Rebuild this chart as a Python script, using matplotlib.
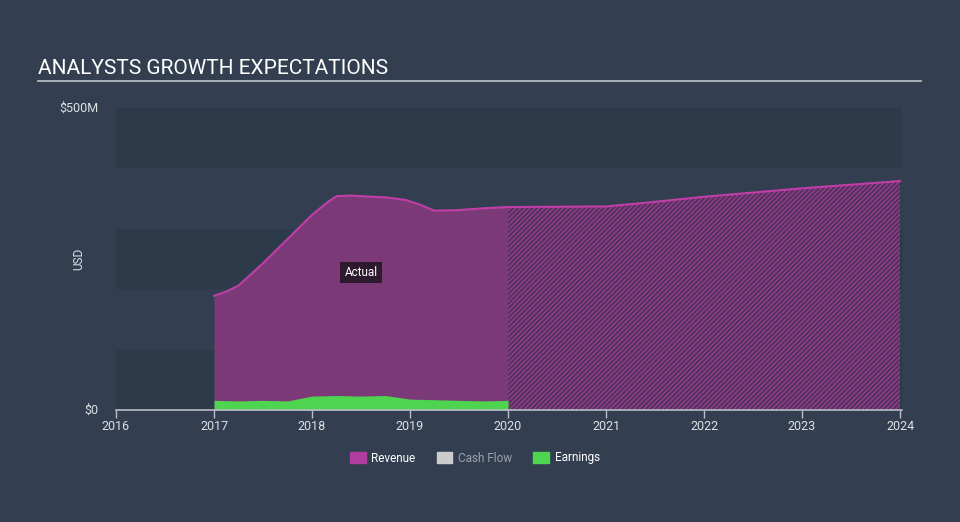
import numpy as np
import matplotlib.pyplot as plt
from matplotlib.patches import Patch

# revenue history, $M
rev_years = [2017.0, 2017.125, 2017.25, 2017.5, 2017.75, 2018.0, 2018.15, 2018.25, 2018.4,
             2018.5, 2018.75, 2018.95, 2019.1, 2019.25, 2019.5, 2019.75, 2020.0]
rev_vals = [189, 196, 206, 243, 283, 323, 343, 354, 355,
            354, 352, 348, 340, 330, 331, 334, 336]

# revenue forecast, $M
fc_years = [2020.0, 2021.0, 2021.4, 2022.0, 2023.0, 2024.0]
fc_vals = [336, 337, 343, 353, 367, 379]

# earnings history, $M
earn_years = [2017.0, 2017.25, 2017.5, 2017.75, 2018.0, 2018.25, 2018.5, 2018.75,
              2019.0, 2019.25, 2019.5, 2019.75, 2020.0]
earn_vals = [16, 15, 16, 15, 23, 24, 23, 24, 18, 17, 16, 15, 16]

year_ticks = [2016, 2017, 2018, 2019, 2020, 2021, 2022, 2023, 2024]

plt.rcParams["font.family"] = ["Roboto", "DejaVu Sans"]
plt.rcParams["hatch.linewidth"] = 1.3
plt.rcParams["hatch.color"] = "#8c3a8a"

bg = "#333f50"
band = "#2d3a4a"
rev_line = "#c13ea8"
rev_fill = "#7b3a77"
earn_col = "#4fd44f"
grid_col = "#b8bec8"

fig = plt.figure(figsize=(9.6, 5.22), dpi=100, facecolor=bg)
ax = fig.add_axes([116/960, 1-410/522, (902-116)/960, 302/522])
ax.set_facecolor(bg)

for lo in (0, 200, 400):
    ax.axhspan(lo, lo + 100, color=band, lw=0, zorder=0)

ax.fill_between(rev_years, 0, rev_vals, color=rev_fill, lw=0, zorder=2)
ax.plot(rev_years, rev_vals, color=rev_line, lw=1.5, zorder=4)

ax.fill_between(fc_years, 0, fc_vals, facecolor="#4b3152", edgecolor="#8c3a8a",
                hatch="///////", lw=0, zorder=2)
ax.plot(fc_years, fc_vals, color=rev_line, lw=1.5, zorder=4)

ax.fill_between(earn_years, 0, earn_vals, color=earn_col, lw=0, zorder=3)

ax.text(2018.5, 228, "Actual", color="white", fontsize=8.5, ha="center", va="center",
        zorder=5, bbox=dict(boxstyle="square,pad=0.35", fc="#2e1a2e", ec="none"))

ax.set_xlim(2016, 2024.02)
ax.set_ylim(0, 500)
ax.set_xticks(year_ticks)
ax.set_xticklabels([str(y) for y in year_ticks])
ax.set_yticks([0, 500])
ax.set_yticklabels(["$0", "$500M"])
ax.tick_params(axis="x", colors=grid_col, length=6, width=1, labelsize=9,
               labelcolor="#dde1e6", pad=1)
ax.tick_params(axis="y", length=0, labelsize=9, labelcolor="#dde1e6", pad=13)
for lab in ax.get_yticklabels():
    lab.set_verticalalignment("center")
for s in ("top", "right", "left"):
    ax.spines[s].set_visible(False)
ax.spines["bottom"].set_color(grid_col)
ax.spines["bottom"].set_linewidth(1.2)
ax.spines["bottom"].set_zorder(6)
ax.set_ylabel("USD", color="#dde1e6", fontsize=8.5)
ax.yaxis.set_label_coords(-31/786, 0.5)

fig.text(38/960, 1-68/522, "ANALYSTS GROWTH EXPECTATIONS", color="white",
         fontsize=15, va="center", ha="left")
fig.add_artist(plt.Line2D([38/960, 921/960], [1-81/522, 1-81/522],
                          color="#c0c5cc", lw=1.2))

handles = [Patch(color="#b03ea0"), Patch(color="#cccccc"), Patch(color=earn_col)]
leg = fig.legend(handles, ["Revenue", "Cash Flow", "Earnings"], loc="center",
                 bbox_to_anchor=(475/960, 1-458/522), ncol=3, frameon=False,
                 fontsize=8.5, handlelength=1.3, handleheight=1.0,
                 columnspacing=1.8, handletextpad=0.5)
for t, c in zip(leg.get_texts(), ["white", "#9aa2ad", "white"]):
    t.set_color(c)

fig.savefig("out.png", dpi=100, facecolor=bg)
